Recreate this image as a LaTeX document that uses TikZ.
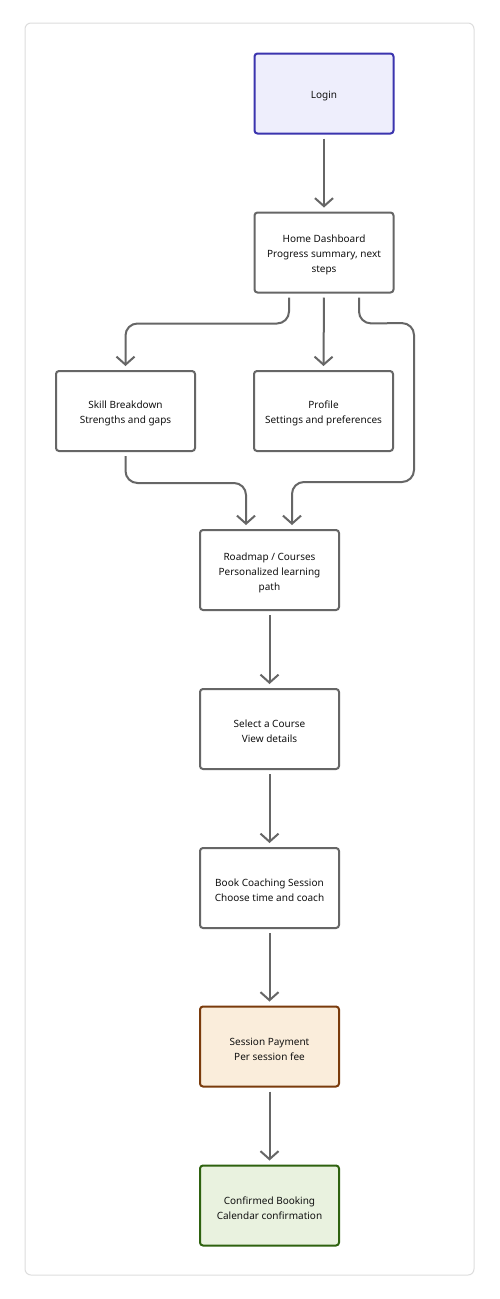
\documentclass[tikz,border=0pt]{standalone}
\usepackage{fontspec}
\setmainfont{Noto Sans}
\usetikzlibrary{arrows.meta,calc}
\definecolor{edge}{HTML}{666666}
\definecolor{frame}{HTML}{DDDDDD}
\definecolor{txt}{HTML}{111111}
\definecolor{loginfill}{HTML}{EEEEFC}
\definecolor{loginline}{HTML}{3B34AE}
\definecolor{payfill}{HTML}{FAEDDB}
\definecolor{payline}{HTML}{7A3B0C}
\definecolor{okfill}{HTML}{E9F2DF}
\definecolor{okline}{HTML}{2E620F}
\tikzset{
  stepbox/.style={draw=edge, line width=2pt, rounded corners=3pt, fill=white,
    minimum width=139pt, minimum height=80pt, inner sep=0pt},
  loginbox/.style={stepbox, draw=loginline, fill=loginfill},
  paybox/.style={stepbox, draw=payline, fill=payfill},
  okbox/.style={stepbox, draw=okline, fill=okfill},
  lbl/.style={align=center, text=txt, font=\fontsize{10pt}{15pt}\selectfont, inner sep=0pt},
  arr/.style={draw=edge, line width=2pt, rounded corners=12pt,
    -{Straight Barb[length=8pt,width=18pt,line width=2pt]},
    shorten <=4pt, shorten >=4pt}
}
\begin{document}
\begin{tikzpicture}[x=1pt,y=-1pt]
\useasboundingbox (0,0) rectangle (500,1299);
\draw[frame, line width=1pt, fill=white, rounded corners=6pt] (25,23) rectangle (474,1275);

\node[loginbox] (login) at (324,93.5) {};
\node[stepbox] (home) at (324,252.5) {};
\node[stepbox] (skill) at (125.5,411) {};
\node[stepbox] (profile) at (323.5,411) {};
\node[stepbox] (road) at (269.5,570) {};
\node[stepbox] (select) at (269.5,729) {};
\node[stepbox] (book) at (269.5,888) {};
\node[paybox] (pay) at (269.5,1046.5) {};
\node[okbox] (ok) at (269.5,1205.5) {};

\node[lbl] (loginT) at ([yshift=-2.5pt]login.center) {Login};
\node[lbl] (homeT) at ([yshift=-2.5pt]home.center) {Home Dashboard\\Progress summary, next\\steps};
\node[lbl] (skillT) at ([yshift=-2.5pt]skill.center) {Skill Breakdown\\Strengths and gaps};
\node[lbl] (profileT) at ([yshift=-2.5pt]profile.center) {Profile\\Settings and preferences};
\node[lbl] (roadT) at ([yshift=-2.5pt]road.center) {Roadmap / Courses\\Personalized learning\\path};
\node[lbl] (selectT) at ([yshift=-2.5pt]select.center) {Select a Course\\View details};
\node[lbl] (bookT) at ([yshift=-2.5pt]book.center) {Book Coaching Session\\Choose time and coach};
\node[lbl] (payT) at ([yshift=-2.5pt]pay.center) {Session Payment\\Per session fee};
\node[lbl] (okT) at ([yshift=-2.5pt]ok.center) {Confirmed Booking\\Calendar confirmation};

\coordinate (rtop) at (414,323);
\coordinate (rbot) at (414,482);

\draw[arr] (login) -- (home);
\draw[arr] ([xshift=-35pt]home.south) -- ++(0,30) -| (skill.north);
\draw[arr] (home.south) -- (profile.north);
\draw[arr] ([xshift=35pt]home.south) -- ++(0,30) -- (rtop) -- (rbot) -| ([xshift=22.5pt]road.north);
\draw[arr] (skill.south) -- ++(0,31) -| ([xshift=-23.5pt]road.north);
\draw[arr] (road) -- (select);
\draw[arr] (select) -- (book);
\draw[arr] (book) -- (pay);
\draw[arr] (pay) -- (ok);
\end{tikzpicture}
\end{document}
